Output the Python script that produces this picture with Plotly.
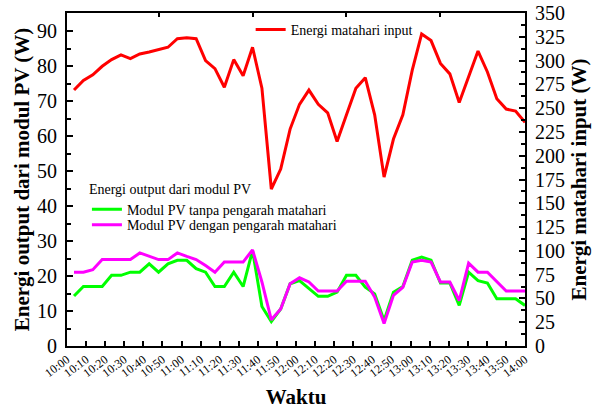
import plotly.graph_objects as go

# ---------------- data ----------------
tick_labels = ["10:00", "10:10", "10:20", "10:30", "10:40", "10:50",
               "11:00", "11:10", "11:20", "11:30", "11:40", "11:50",
               "12:00", "12:10", "12:20", "12:30", "12:40", "12:50",
               "13:00", "13:10", "13:20", "13:30", "13:40", "13:50", "14:00"]
tick_minutes = list(range(0, 241, 10))      # minutes after 10:00
sample_minutes = list(range(0, 241, 5))     # one sample every 5 minutes

energi_matahari_input = [269, 279, 285, 294, 301, 306, 302, 307, 309, 311.5,
                         314, 323, 324, 323, 300, 291.5, 272, 301, 284, 314,
                         271, 165, 186, 228, 254, 269, 254, 245, 215, 243,
                         271, 282, 243, 177.5, 217.5, 243, 290, 328, 321, 297,
                         286, 256, 284, 310, 288, 260, 249, 247, 235]

pv_tanpa_pengarah = [14.3, 17.0, 17.0, 17.0, 20.2, 20.2, 21.1, 21.1, 23.5, 21.1,
                     23.5, 24.5, 24.5, 22.1, 21.1, 17.0, 17.0, 21.1, 17.0, 27.3,
                     11.3, 7.0, 10.6, 17.8, 18.7, 16.4, 14.2, 14.2, 15.4, 20.2,
                     20.2, 16.8, 14.9, 7.3, 15.4, 17.0, 24.5, 25.4, 24.5, 18.0,
                     18.0, 11.6, 21.1, 18.7, 18.0, 13.5, 13.5, 13.5, 11.6]

pv_dengan_pengarah = [21.1, 21.1, 21.8, 24.7, 24.7, 24.7, 24.7, 26.6, 25.6, 24.7,
                      24.7, 26.6, 25.6, 24.7, 23.0, 21.1, 24.0, 24.0, 24.0, 27.5,
                      18.3, 7.5, 10.6, 17.8, 19.5, 18.3, 15.7, 15.7, 15.7, 18.5,
                      18.5, 18.5, 14.0, 6.4, 14.5, 16.8, 24.0, 24.5, 24.0, 18.3,
                      18.3, 13.0, 23.7, 21.1, 21.1, 18.5, 15.7, 15.7, 15.7]

left_ticks = [0, 10, 20, 30, 40, 50, 60, 70, 80, 90]
left_minor = [5, 15, 25, 35, 45, 55, 65, 75, 85, 95]
right_ticks = [0, 25, 50, 75, 100, 125, 150, 175, 200, 225, 250, 275, 300, 325, 350]
top_ticks = [45, 95, 145, 195]

FONT = "Liberation Serif"

fig = go.Figure()
fig.add_trace(go.Scatter(x=sample_minutes, y=energi_matahari_input, mode="lines",
                         name="Energi matahari input",
                         line=dict(color="#ff0000", width=3),
                         xaxis="x", yaxis="y2", legend="legend"))
fig.add_trace(go.Scatter(x=sample_minutes, y=pv_tanpa_pengarah, mode="lines",
                         name="Modul PV tanpa pengarah matahari",
                         line=dict(color="#00ff00", width=3),
                         xaxis="x", yaxis="y", legend="legend2"))
fig.add_trace(go.Scatter(x=sample_minutes, y=pv_dengan_pengarah, mode="lines",
                         name="Modul PV dengan pengarah matahari",
                         line=dict(color="#ff00ff", width=3),
                         xaxis="x", yaxis="y", legend="legend3"))
# carrier for the labelled time axis
fig.add_trace(go.Scatter(x=[tick_minutes[0], tick_minutes[-1]], y=[None, None],
                         mode="lines", showlegend=False, hoverinfo="skip",
                         xaxis="x2", yaxis="y"))

axis_common = dict(showline=True, linewidth=2, linecolor="black",
                   showgrid=False, zeroline=False, automargin=False)

fig.update_layout(
    width=603, height=412,
    margin=dict(l=67, r=78, t=13, b=66),
    paper_bgcolor="white", plot_bgcolor="white",
    font=dict(family=FONT, color="black"),
    xaxis=dict(range=[-3.73, 240], side="top", anchor="y",
               tickvals=top_ticks, showticklabels=False,
               ticks="inside", ticklen=4, tickwidth=1.5, tickcolor="black",
               **axis_common),
    xaxis2=dict(range=[0, 240], overlaying="x", side="bottom", anchor="y",
                tickmode="array", tickvals=tick_minutes, ticktext=tick_labels,
                tickangle=-37, tickfont=dict(size=12),
                ticks="inside", ticklen=5, tickwidth=1.5, tickcolor="black",
                title=dict(text="<b>Waktu</b>", font=dict(size=21), standoff=10),
                **axis_common),
    yaxis=dict(range=[0, 95.2], tickmode="array", tickvals=left_ticks,
               ticks="inside", ticklen=6, tickwidth=2, tickcolor="black",
               minor=dict(tickmode="array", tickvals=left_minor, ticks="inside",
                          ticklen=4, tickwidth=1.5, tickcolor="black"),
               tickfont=dict(size=20), ticklabelstandoff=4,
               title=dict(text="<b>Energi output dari modul PV (W)</b>",
                          font=dict(size=21), standoff=2),
               **axis_common),
    yaxis2=dict(range=[0, 350], overlaying="y", side="right", anchor="x",
                tickmode="array", tickvals=right_ticks,
                ticks="inside", ticklen=6, tickwidth=2, tickcolor="black",
                minor=dict(dtick=12.5, ticks="inside", ticklen=4, tickwidth=1.5,
                           tickcolor="black"),
                tickfont=dict(size=20), ticklabelstandoff=4,
                title=dict(text="<b>Energi matahari input (W)</b>",
                           font=dict(size=21), standoff=7),
                **axis_common),
    legend=dict(x=0.401, y=0.997, xanchor="left", yanchor="top",
                bgcolor="rgba(0,0,0,0)", font=dict(size=14)),
    legend2=dict(x=0.0435, y=0.512, xanchor="left", yanchor="top",
                 bgcolor="rgba(0,0,0,0)", font=dict(size=14),
                 title=dict(text="Energi output dari modul PV", side="top",
                            font=dict(size=14))),
    legend3=dict(x=0.0435, y=0.411, xanchor="left", yanchor="top",
                 bgcolor="rgba(0,0,0,0)", font=dict(size=14)),
)

fig.write_html("out.html",
               config={"displayModeBar": False},
               post_script="document.body.style.margin='0';")
